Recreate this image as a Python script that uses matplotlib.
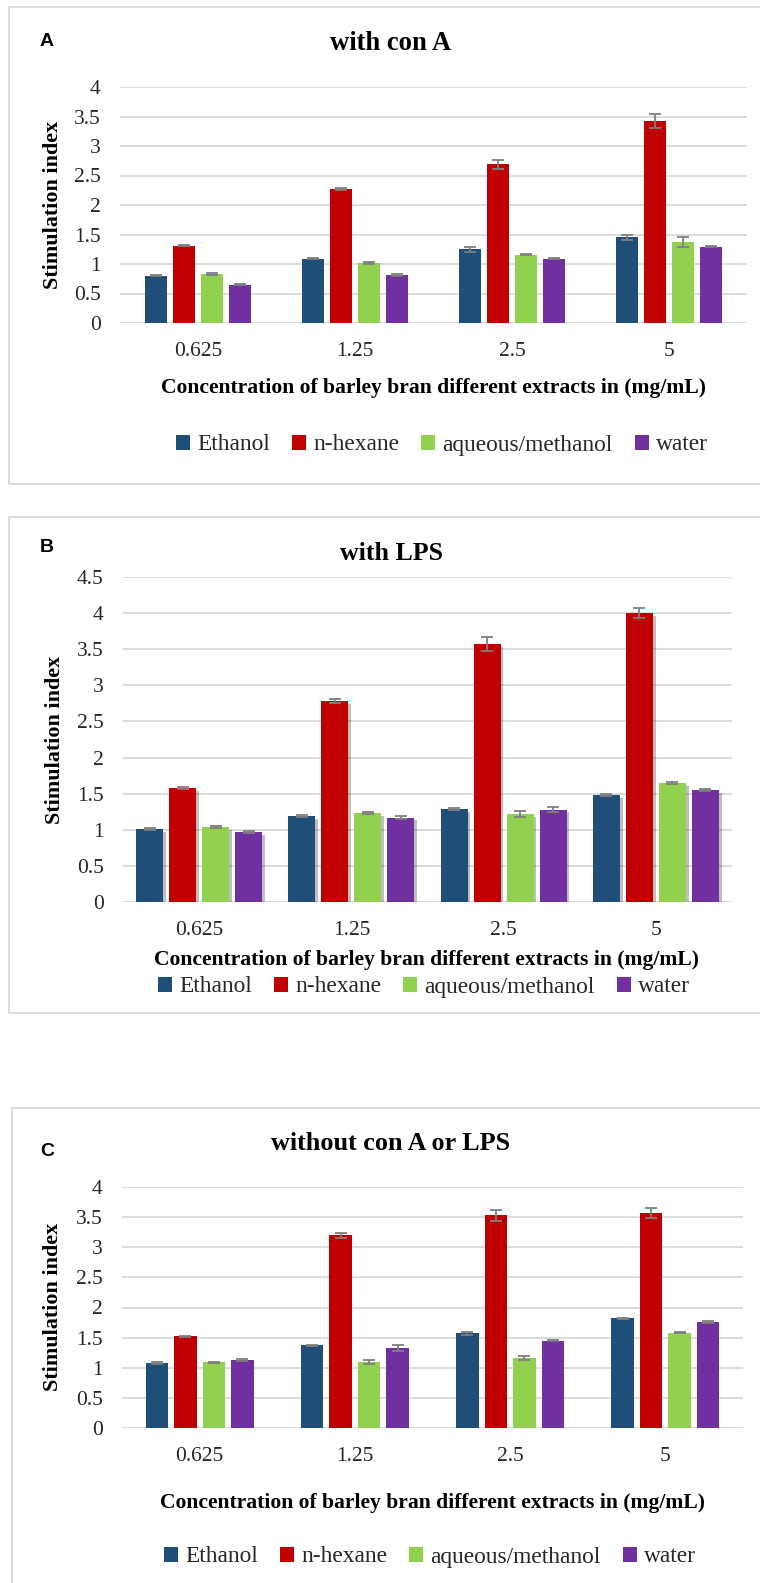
import matplotlib
matplotlib.use("Agg")
import matplotlib.pyplot as plt
import matplotlib.patheffects as pe
from matplotlib.patches import Rectangle, Patch
import numpy as np

# ---------------- data ----------------
categories = ["0.625", "1.25", "2.5", "5"]
series_names = ["Ethanol", "n-hexane", "aqueous/methanol", "water"]
colors = ["#1F4E79", "#C00000", "#92D050", "#7030A0"]

# Panel A: with con A
a_ethanol = [0.80, 1.09, 1.25, 1.45]
a_hexane = [1.31, 2.27, 2.69, 3.42]
a_aqmeth = [0.83, 1.02, 1.16, 1.37]
a_water = [0.65, 0.81, 1.09, 1.29]
a_ethanol_err = [0.01, 0.01, 0.04, 0.05]
a_hexane_err = [0.01, 0.01, 0.08, 0.12]
a_aqmeth_err = [0.01, 0.02, 0.01, 0.08]
a_water_err = [0.01, 0.02, 0.01, 0.01]

# Panel B: with LPS
b_ethanol = [1.01, 1.19, 1.29, 1.48]
b_hexane = [1.58, 2.78, 3.57, 4.00]
b_aqmeth = [1.04, 1.23, 1.22, 1.65]
b_water = [0.97, 1.17, 1.28, 1.55]
b_ethanol_err = [0.01, 0.01, 0.01, 0.01]
b_hexane_err = [0.01, 0.03, 0.10, 0.07]
b_aqmeth_err = [0.01, 0.01, 0.04, 0.01]
b_water_err = [0.01, 0.02, 0.04, 0.01]

# Panel C: without con A or LPS
c_ethanol = [1.08, 1.37, 1.57, 1.82]
c_hexane = [1.52, 3.20, 3.53, 3.57]
c_aqmeth = [1.09, 1.10, 1.16, 1.58]
c_water = [1.13, 1.33, 1.45, 1.76]
c_ethanol_err = [0.01, 0.01, 0.02, 0.01]
c_hexane_err = [0.01, 0.04, 0.09, 0.08]
c_aqmeth_err = [0.01, 0.03, 0.03, 0.01]
c_water_err = [0.01, 0.05, 0.01, 0.01]

yticks_a = [0, 0.5, 1, 1.5, 2, 2.5, 3, 3.5, 4]
yticks_b = [0, 0.5, 1, 1.5, 2, 2.5, 3, 3.5, 4, 4.5]
yticks_c = [0, 0.5, 1, 1.5, 2, 2.5, 3, 3.5, 4]
ytick_labels_a = ["0", "0.5", "1", "1.5", "2", "2.5", "3", "3.5", "4"]
ytick_labels_b = ["0", "0.5", "1", "1.5", "2", "2.5", "3", "3.5", "4", "4.5"]
ytick_labels_c = ytick_labels_a

xlabel = "Concentration of barley bran different extracts in (mg/mL)"
ylabel = "Stimulation index"

# ---------------- figure ----------------
W, H = 760, 1583
DPI = 100
fig = plt.figure(figsize=(W / DPI, H / DPI), dpi=DPI)
fig.patch.set_facecolor("white")

SERIF = ["Liberation Serif", "DejaVu Serif"]
SANS = ["Liberation Sans", "DejaVu Sans"]


def fx(x):
    return x / W


def fy(y):
    return 1 - y / H


def add_box(l, t, r, b):
    rect = Rectangle((fx(l), fy(b)), fx(r - l), (b - t) / H, transform=fig.transFigure,
                     facecolor="none", edgecolor="#d9d9d9", linewidth=1.3, zorder=0)
    fig.patches.append(rect)


def fit_width(txt, target):
    fig.canvas.draw()
    r = fig.canvas.get_renderer()
    bb = txt.get_window_extent(r)
    w = max(bb.width, bb.height) if txt.get_rotation() else bb.width
    txt.set_fontsize(txt.get_fontsize() * target / w)


def panel(box, axpos, letter, letter_y, title, title_y, title_w, vals, errs, ylim, yticks, yticklabels,
          bar_w, step, xlab_y, xlab_cx, leg_y, leg_cx, ylab_x, ylab_cy, shadow=False):
    add_box(*box)
    l, t, r, b = axpos
    ax = fig.add_axes([fx(l), fy(b), fx(r - l), (b - t) / H])
    x = np.arange(len(categories))
    for i, (v, e) in enumerate(zip(vals, errs)):
        bars = ax.bar(x + (i - 1.5) * step, v, bar_w, color=colors[i], label=series_names[i], zorder=3)
        if shadow:
            for p in bars:
                p.set_path_effects([pe.SimplePatchShadow(offset=(2, -2), shadow_rgbFace="k", alpha=0.25),
                                    pe.Normal()])
        ax.errorbar(x + (i - 1.5) * step, v, yerr=e, fmt="none", ecolor="#7f7f7f", elinewidth=1.3,
                    capsize=4.5, capthick=1.3, zorder=4)
    ax.set_xlim(-0.5, len(categories) - 0.5)
    ax.set_ylim(*ylim)
    ax.set_yticks(yticks)
    ax.set_yticklabels(yticklabels, fontfamily=SERIF, fontsize=15.5, color="#262626")
    ax.set_xticks(x)
    ax.set_xticklabels(categories, fontfamily=SERIF, fontsize=15.5, color="#262626")
    ax.tick_params(axis="y", length=0, pad=14)
    ax.tick_params(axis="x", length=0, pad=14)
    for s in ax.spines.values():
        s.set_visible(False)
    ax.grid(axis="y", color="#d9d9d9", linewidth=1.3, zorder=0)
    ax.set_axisbelow(True)
    ax.set_facecolor("none")

    fig.text(fx(47), fy(letter_y), letter, family=SANS, fontweight="bold", fontsize=14,
             ha="center", va="center", color="black")
    tt = fig.text(fx(391), fy(title_y), title, family=SERIF, fontweight="bold", fontsize=15,
                  ha="center", va="center", color="black")
    fit_width(tt, title_w)
    xl = fig.text(fx(xlab_cx), fy(xlab_y), xlabel, family=SERIF, fontweight="bold", fontsize=14,
                  ha="center", va="center", color="black")
    fit_width(xl, 546)
    yl = fig.text(fx(ylab_x), fy(ylab_cy), ylabel, family=SERIF, fontweight="bold", fontsize=14,
                  ha="center", va="center", rotation=90, color="black")
    fit_width(yl, 168)
    handles = [Patch(facecolor=c, edgecolor="none", label=n) for c, n in zip(colors, series_names)]
    leg = ax.legend(handles=handles, loc="center", bbox_to_anchor=(fx(leg_cx), fy(leg_y)),
                    bbox_transform=fig.transFigure, ncol=4, frameon=False,
                    prop={"family": SERIF, "size": 16.8}, handlelength=0.6, handleheight=0.6,
                    handletextpad=0.3, columnspacing=0.95)
    for txt in leg.get_texts():
        txt.set_color("#262626")
    return ax


panel(box=(9, 7, 800, 484), axpos=(120, 87, 747, 323), letter="A", letter_y=41,
      title="with con A", title_y=43, title_w=122,
      vals=[a_ethanol, a_hexane, a_aqmeth, a_water],
      errs=[a_ethanol_err, a_hexane_err, a_aqmeth_err, a_water_err],
      ylim=(0, 4), yticks=yticks_a, yticklabels=ytick_labels_a,
      bar_w=0.14, step=0.179, xlab_y=388, xlab_cx=433, leg_y=445, leg_cx=442,
      ylab_x=53, ylab_cy=205)

panel(box=(9, 517, 800, 1013), axpos=(123, 577, 732, 902), letter="B", letter_y=547,
      title="with LPS", title_y=553, title_w=103,
      vals=[b_ethanol, b_hexane, b_aqmeth, b_water],
      errs=[b_ethanol_err, b_hexane_err, b_aqmeth_err, b_water_err],
      ylim=(0, 4.5), yticks=yticks_b, yticklabels=ytick_labels_b,
      bar_w=0.177, step=0.217, xlab_y=960, xlab_cx=427, leg_y=987, leg_cx=424,
      ylab_x=55, ylab_cy=740, shadow=True)

panel(box=(12, 1108, 800, 1600), axpos=(122, 1187, 743, 1428), letter="C", letter_y=1152,
      title="without con A or LPS", title_y=1143, title_w=240,
      vals=[c_ethanol, c_hexane, c_aqmeth, c_water],
      errs=[c_ethanol_err, c_hexane_err, c_aqmeth_err, c_water_err],
      ylim=(0, 4), yticks=yticks_c, yticklabels=ytick_labels_c,
      bar_w=0.145, step=0.184, xlab_y=1503, xlab_cx=432, leg_y=1557, leg_cx=430,
      ylab_x=53, ylab_cy=1307)

fig.savefig("out.png", dpi=DPI, facecolor="white")
